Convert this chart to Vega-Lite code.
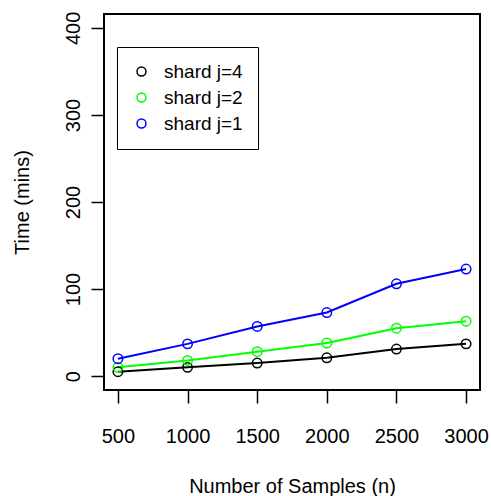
{
  "$schema": "https://vega.github.io/schema/vega-lite/v6.json",
  "autosize": {"type": "none"},
  "width": 376,
  "height": 376,
  "padding": {"left": 104, "top": 14, "right": 11, "bottom": 106},
  "background": "white",
  "data": {"values": [
    {"n": 500, "time": 5, "series": "shard j=4"},
    {"n": 1000, "time": 10, "series": "shard j=4"},
    {"n": 1500, "time": 15, "series": "shard j=4"},
    {"n": 2000, "time": 21, "series": "shard j=4"},
    {"n": 2500, "time": 31, "series": "shard j=4"},
    {"n": 3000, "time": 37, "series": "shard j=4"},
    {"n": 500, "time": 10, "series": "shard j=2"},
    {"n": 1000, "time": 18, "series": "shard j=2"},
    {"n": 1500, "time": 28, "series": "shard j=2"},
    {"n": 2000, "time": 38, "series": "shard j=2"},
    {"n": 2500, "time": 55, "series": "shard j=2"},
    {"n": 3000, "time": 63, "series": "shard j=2"},
    {"n": 500, "time": 20, "series": "shard j=1"},
    {"n": 1000, "time": 37, "series": "shard j=1"},
    {"n": 1500, "time": 57, "series": "shard j=1"},
    {"n": 2000, "time": 73, "series": "shard j=1"},
    {"n": 2500, "time": 106, "series": "shard j=1"},
    {"n": 3000, "time": 123, "series": "shard j=1"}
  ]},
  "encoding": {
    "x": {
      "field": "n", "type": "quantitative",
      "scale": {"domain": [400, 3100], "nice": false, "zero": false},
      "axis": {
        "values": [500, 1000, 1500, 2000, 2500, 3000],
        "format": "d",
        "title": "Number of Samples (n)",
        "labelBaseline": "alphabetic",
        "labelPadding": 39,
        "titleY": 102,
        "titleBaseline": "alphabetic"
      }
    },
    "y": {
      "field": "time", "type": "quantitative",
      "scale": {"domain": [-16, 416], "nice": false, "zero": false},
      "axis": {
        "values": [0, 100, 200, 300, 400],
        "format": "d",
        "title": "Time (mins)",
        "labelAngle": -90,
        "labelAlign": "center",
        "labelBaseline": "alphabetic",
        "labelPadding": 12,
        "titleX": -82,
        "titleY": 188,
        "titleAngle": -90,
        "titleAlign": "center",
        "titleBaseline": "middle"
      }
    },
    "color": {
      "field": "series", "type": "nominal",
      "scale": {"domain": ["shard j=4", "shard j=2", "shard j=1"], "range": ["#000000", "#00ff00", "#0000ff"]},
      "legend": {
        "title": null,
        "orient": "none",
        "legendX": 13,
        "legendY": 33,
        "symbolType": "circle",
        "symbolSize": 80,
        "symbolStrokeWidth": 1.5,
        "symbolFillColor": "transparent",
        "strokeColor": "black",
        "padding": 15,
        "rowPadding": 6,
        "labelOffset": 13,
        "labelFontSize": 19,
        "labelFont": "Liberation Sans",
        "labelColor": "black",
        "fillColor": "white"
      }
    }
  },
  "layer": [
    {"mark": {"type": "line", "strokeWidth": 2}},
    {"mark": {"type": "point", "shape": "circle", "filled": false, "size": 90, "strokeWidth": 1.5, "opacity": 1}}
  ],
  "config": {
    "view": {"stroke": "black", "strokeWidth": 2},
    "axis": {
      "domain": false,
      "grid": false,
      "ticks": true,
      "tickColor": "black",
      "tickWidth": 1.5,
      "tickSize": 13,
      "labelFont": "Liberation Sans",
      "labelFontSize": 20,
      "labelColor": "black",
      "titleFont": "Liberation Sans",
      "titleFontSize": 20,
      "titleFontWeight": "normal",
      "titleColor": "black"
    }
  }
}
